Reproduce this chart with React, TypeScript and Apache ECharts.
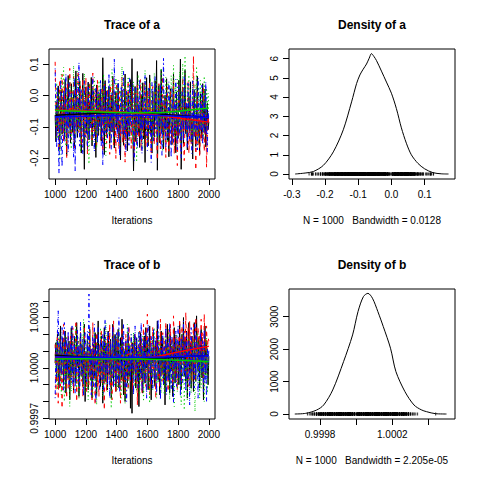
import React, { useEffect, useRef } from "react";
import * as echarts from "echarts";

// ---------- tick values ----------
const ITER_TICKS = [1000, 1200, 1400, 1600, 1800, 2000];
const A_TICKS = [-0.2, -0.1, 0.0, 0.1];
const B_TICKS = [0.9997, 0.9998, 0.9999, 1.0, 1.0001, 1.0002, 1.0003, 1.0004];
const B_TICK_LABELS = [0.9997, 1.0, 1.0003];
const DA_X_TICKS = [-0.3, -0.2, -0.1, 0.0, 0.1];
const DA_Y_TICKS = [0, 1, 2, 3, 4, 5, 6];
const DB_X_TICKS = [0.9998, 1.0, 1.0002, 1.0004];
const DB_X_LABELS = [0.9998, 1.0002];
const DB_Y_TICKS = [0, 1000, 2000, 3000];

// ---------- texts ----------
const TITLES = ["Trace of a", "Density of a", "Trace of b", "Density of b"];
const XLABS = ["Iterations", "N = 1000   Bandwidth = 0.0128", "Iterations", "N = 1000   Bandwidth = 2.205e-05"];

// ---------- trace of a (4 chains, thinned every 5 iterations, 1000..2000) ----------
const A_BLACK = [
  -0.062, -0.148, -0.021, -0.113, 0.031, -0.087, -0.172, -0.043, 0.018, -0.124,
  -0.071, -0.006, -0.139, 0.052, -0.082, -0.193, -0.034, 0.064, -0.101, -0.053,
  -0.152, 0.038, -0.069, -0.118, 0.012, -0.167, -0.058, 0.079, -0.092, -0.134,
  -0.017, -0.106, 0.046, -0.078, -0.184, -0.039, 0.071, -0.097, -0.236, -0.031,
  0.027, -0.121, -0.063, 0.043, -0.142, -0.021, -0.088, 0.058, -0.161, -0.049,
  0.013, -0.109, -0.074, -0.198, 0.034, -0.056, -0.128, 0.004, -0.094, 0.021,
  -0.146, -0.067, 0.121, -0.037, -0.189, 0.048, -0.083, -0.131, -0.012, -0.102,
  0.028, -0.153, -0.071, 0.002, -0.117, 0.062, -0.091, -0.168, -0.041, 0.011,
  -0.108, -0.059, 0.039, -0.137, -0.079, -0.206, -0.028, 0.018, -0.099, -0.159,
  -0.051, 0.069, -0.118, -0.072, -0.177, 0.009, -0.088, -0.129, 0.051, -0.046,
  0.118, -0.097, -0.241, -0.101, 0.029, -0.147, -0.062, 0.077, -0.121, -0.031,
  -0.166, -0.083, 0.003, -0.112, 0.041, -0.139, -0.069, -0.214, -0.025, 0.057,
  -0.104, -0.161, -0.048, 0.066, -0.123, -0.076, -0.184, 0.014, -0.092, -0.132,
  0.047, -0.054, 0.112, -0.239, -0.097, 0.032, -0.151, -0.061, 0.083, -0.118,
  -0.028, -0.171, -0.084, 0.001, -0.109, 0.054, -0.143, -0.072, -0.196, -0.038,
  0.022, -0.102, -0.157, -0.049, 0.069, -0.126, -0.079, -0.183, 0.011, -0.091,
  -0.137, 0.049, -0.052, 0.117, -0.236, -0.104, 0.027, -0.154, -0.063, 0.081,
  -0.122, -0.034, -0.174, -0.087, -0.004, -0.113, 0.044, -0.149, -0.074, -0.203,
  -0.042, 0.017, -0.107, -0.163, -0.056, 0.062, -0.131, -0.081, -0.188, 0.006,
  -0.095, -0.136, 0.038, -0.059, -0.118, 0.021, -0.164, -0.072, -0.025, -0.109,
  -0.084,
];
const A_RED = [
  0.108, -0.038, -0.127, 0.024, -0.081, -0.176, 0.051, -0.019, -0.112, 0.068,
  -0.057, -0.149, 0.033, -0.093, -0.008, -0.198, 0.042, -0.071, -0.121, 0.087,
  -0.029, -0.141, 0.013, -0.079, 0.061, -0.168, -0.047, 0.022, -0.104, -0.011,
  0.078, -0.118, -0.036, 0.031, -0.158, -0.066, 0.054, -0.088, -0.017, -0.131,
  0.057, -0.052, -0.187, 0.004, -0.077, 0.043, -0.109, -0.026, -0.148, 0.072,
  -0.061, -0.123, 0.018, -0.094, -0.166, 0.049, -0.039, -0.101, 0.009, -0.142,
  -0.068, 0.028, -0.179, -0.048, 0.037, -0.114, -0.082, -0.153, 0.019, -0.097,
  -0.043, -0.188, 0.032, -0.119, -0.071, 0.053, -0.162, -0.089, -0.021, -0.201,
  0.039, -0.108, -0.058, -0.172, 0.014, -0.133, -0.079, 0.058, -0.151, -0.096,
  -0.031, -0.213, 0.021, -0.124, -0.064, 0.047, -0.141, -0.087, -0.012, -0.169,
  0.026, -0.116, -0.054, -0.191, 0.008, -0.102, -0.158, 0.034, -0.083, -0.137,
  -0.047, 0.051, -0.176, -0.093, -0.019, -0.128, 0.041, -0.072, -0.163, -0.104,
  0.016, -0.148, -0.068, 0.044, -0.119, -0.187, -0.036, 0.029, -0.097, -0.157,
  -0.079, 0.012, -0.134, -0.206, -0.052, 0.038, -0.112, -0.171, -0.024, -0.091,
  0.061, -0.146, -0.083, -0.011, -0.198, -0.067, 0.027, -0.129, -0.178, -0.044,
  0.018, -0.109, -0.152, -0.058, 0.049, -0.186, -0.097, -0.016, -0.139, -0.224,
  -0.071, 0.033, -0.118, -0.167, -0.038, -0.101, 0.057, -0.143, -0.208, -0.082,
  -0.019, -0.127, -0.063, 0.046, -0.184, -0.112, 0.009, -0.156, -0.094, -0.031,
  0.126, -0.136, -0.072, -0.238, -0.115, 0.019, -0.161, -0.053, -0.197, -0.121,
  -0.014, -0.146, -0.088, 0.028, -0.179, -0.106, -0.043, -0.229, -0.132, -0.067,
  -0.094,
];
const A_GREEN = [
  -0.018, -0.102, 0.041, -0.138, -0.057, 0.013, -0.207, -0.079, 0.068, -0.112,
  -0.033, 0.091, -0.121, -0.046, -0.162, 0.028, -0.087, -0.009, -0.129, 0.059,
  -0.068, -0.171, 0.017, -0.098, 0.096, -0.041, -0.152, 0.003, -0.083, 0.077,
  -0.117, -0.028, 0.052, -0.181, -0.061, 0.019, -0.109, -0.038, 0.071, -0.143,
  -0.076, 0.011, -0.131, -0.052, -0.219, 0.039, -0.093, -0.017, -0.147, 0.031,
  -0.072, 0.058, -0.124, -0.041, -0.168, 0.008, -0.101, 0.048, -0.063, -0.139,
  0.022, -0.088, -0.027, 0.069, -0.118, -0.054, -0.192, 0.026, -0.081, -0.002,
  -0.127, 0.046, -0.062, -0.114, 0.084, -0.023, -0.153, 0.013, -0.094, 0.057,
  -0.037, -0.121, 0.038, -0.071, -0.163, 0.017, -0.048, 0.093, -0.104, -0.011,
  -0.133, 0.049, -0.079, 0.006, -0.112, 0.061, -0.052, -0.142, 0.029, -0.087,
  -0.023, -0.158, 0.044, -0.066, -0.118, 0.018, -0.213, -0.041, 0.067, -0.096,
  -0.014, -0.137, 0.039, -0.082, -0.171, 0.004, -0.059, 0.081, -0.108, -0.032,
  -0.149, 0.027, -0.067, -0.124, 0.056, -0.019, -0.163, 0.011, -0.088, 0.072,
  -0.044, -0.131, 0.048, -0.073, -0.007, -0.142, 0.033, -0.097, 0.088, -0.056,
  -0.179, 0.021, -0.061, -0.113, 0.059, -0.028, -0.152, 0.042, -0.081, 0.009,
  -0.121, 0.064, -0.036, -0.094, 0.097, -0.017, -0.138, 0.031, -0.069, 0.052,
  -0.104, -0.024, 0.076, -0.151, 0.014, -0.062, 0.103, -0.089, -0.012, 0.127,
  -0.047, -0.132, 0.043, -0.074, 0.066, -0.108, 0.019, -0.039, -0.147, 0.058,
  -0.021, -0.117, 0.036, -0.081, 0.094, -0.052, -0.158, 0.027, -0.066, 0.049,
  -0.112, 0.011, -0.035, -0.139, 0.062, -0.058, -0.097, 0.024, -0.046, 0.008,
  -0.038,
];
const A_BLUE = [
  0.087, -0.078, -0.168, 0.029, -0.109, -0.248, -0.041, 0.052, -0.127, -0.228,
  -0.061, 0.018, -0.149, -0.092, 0.069, -0.118, -0.032, -0.181, 0.041, -0.083,
  -0.139, 0.009, -0.102, -0.048, -0.197, 0.058, -0.241, -0.071, 0.032, -0.121,
  -0.043, 0.106, -0.162, -0.081, 0.022, -0.108, -0.188, -0.058, 0.047, -0.133,
  -0.019, -0.094, -0.171, 0.038, -0.068, -0.143, 0.003, -0.104, -0.037, 0.062,
  -0.118, -0.179, -0.052, 0.027, -0.087, -0.152, 0.012, -0.073, -0.109, 0.048,
  -0.161, -0.028, -0.221, -0.079, 0.041, -0.124, -0.061, 0.019, -0.138, -0.091,
  0.071, -0.113, -0.039, -0.172, 0.008, -0.083, -0.131, 0.116, -0.058, -0.101,
  -0.022, -0.148, 0.049, -0.089, -0.193, -0.041, 0.031, -0.122, -0.068, 0.079,
  -0.129, -0.052, -0.182, 0.017, -0.098, -0.031, -0.159, 0.057, -0.079, -0.117,
  -0.046, 0.038, -0.137, -0.208, -0.063, 0.024, -0.112, -0.169, -0.007, -0.091,
  0.053, -0.144, -0.072, -0.186, 0.011, -0.103, -0.056, 0.067, -0.128, -0.034,
  -0.176, -0.084, 0.029, -0.119, -0.061, -0.214, 0.043, -0.096, -0.148, -0.022,
  0.061, -0.107, -0.043, -0.158, 0.014, -0.081, -0.127, 0.038, -0.069, -0.191,
  -0.052, 0.119, -0.114, -0.076, -0.164, 0.009, -0.091, -0.139, 0.044, -0.038,
  -0.122, -0.198, 0.026, -0.066, -0.152, -0.017, -0.104, 0.052, -0.083, -0.173,
  -0.041, 0.034, -0.129, -0.088, -0.201, 0.012, -0.073, -0.146, 0.064, -0.057,
  -0.118, -0.024, -0.167, 0.039, -0.094, -0.138, 0.003, -0.079, -0.186, 0.047,
  -0.063, -0.131, 0.021, -0.102, -0.049, -0.174, 0.056, -0.088, -0.136, -0.019,
  -0.109, 0.033, -0.157, -0.071, -0.012, -0.124, 0.044, -0.096, -0.181, -0.048,
  -0.077,
];

// ---------- trace of b ----------
const B_BLACK = [
  1.00003, 1.00015, 0.99992, 1.0002, 1.00006, 0.99988, 1.00011, 1.00025, 0.99996, 1.00009,
  1.00018, 0.9999, 1.00004, 1.00022, 0.99985, 1.00007, 1.00013, 0.99994, 1.00016, 0.99981,
  1.00002, 1.00024, 0.99997, 1.0001, 0.99986, 1.00019, 1.00005, 0.99991, 1.00027, 1.00001,
  1.00012, 0.99983, 1.00008, 1.00021, 0.99995, 1.00014, 0.99989, 1.00003, 1.00026, 0.9998,
  1.00009, 0.99998, 1.00017, 0.99987, 1.00006, 1.00023, 0.99993, 1.00011, 0.99982, 1.00004,
  1.00014, 0.99994, 1.00021, 1.0, 0.99984, 1.00012, 1.00028, 0.99997, 1.00008, 0.99989,
  1.00019, 1.00005, 0.99979, 1.0001, 1.00024, 0.99992, 1.00015, 1.00001, 0.99987, 1.00022,
  1.00007, 0.99996, 1.00017, 0.99982, 1.00011, 1.00026, 0.99991, 1.00004, 1.0002, 0.99986,
  1.00013, 0.99999, 1.00023, 0.99988, 1.00006, 1.00018, 0.99993, 1.00029, 1.00002, 0.99984,
  1.0001, 0.9998, 1.00015, 1.00003, 0.99991, 1.00021, 0.99995, 1.00012, 0.99976, 1.00008,
  0.99973, 1.00015, 0.99996, 1.0002, 1.00001, 0.99988, 1.00018, 0.99992, 1.0001, 0.99977,
  1.00007, 1.00021, 0.99994, 1.00013, 0.99985, 1.00004, 1.00019, 0.99991, 1.00024, 1.0,
  1.00016, 0.99987, 1.00009, 1.00025, 0.99998, 0.99981, 1.00011, 1.00003, 1.00021, 0.99993,
  0.99989, 1.00016, 1.00005, 1.00028, 0.99993, 1.00012, 0.99984, 1.00008, 1.00022, 0.99997,
  1.00018, 0.9999, 1.00006, 0.99978, 1.00014, 1.00002, 1.00026, 0.99994, 1.00011, 0.99985,
  1.0002, 0.99999, 1.00013, 0.99983, 1.00007, 1.00024, 0.99991, 1.00016, 0.99996, 1.0001,
  1.00014, 0.9999, 1.00026, 1.00002, 0.99987, 1.0002, 1.00006, 1.0003, 0.99995, 1.00017,
  0.99992, 1.00022, 0.99982, 1.00009, 1.00027, 0.99997, 1.00015, 0.99988, 1.00019, 1.00004,
  0.99986, 1.00027, 1.00003, 0.99992, 1.00031, 1.00009, 0.99998, 1.00018, 0.99988, 1.00011,
  1.00023, 0.99994, 1.00013, 0.99981, 1.00008, 1.00025, 0.99996, 1.00016, 1.00001, 0.9999,
  1.00007,
];
const B_RED = [
  1.00014, 0.99984, 1.00005, 1.00022, 0.99979, 1.00009, 1.00017, 0.99989, 1.00003, 0.99976,
  1.00011, 1.00026, 0.99993, 1.00015, 0.99998, 0.99982, 1.00008, 1.0002, 0.99987, 1.00006,
  1.00019, 0.99991, 1.00002, 1.00024, 0.99985, 1.0001, 0.99995, 1.00028, 0.9998, 1.00007,
  1.00016, 0.99988, 1.00004, 1.00021, 0.99992, 1.00013, 0.99983, 1.00001, 1.00025, 0.99996,
  1.00009, 0.99986, 1.00018, 1.00003, 0.9999, 1.00023, 0.99994, 1.00012, 0.99981, 1.00027,
  0.99997, 1.00017, 0.99978, 1.00008, 1.00021, 0.99989, 1.00004, 0.99983, 1.00014, 0.99994,
  1.00023, 0.99991, 1.00012, 0.99999, 0.99975, 1.00016, 1.00006, 0.99986, 1.00019, 1.00002,
  0.99993, 1.00026, 0.99988, 1.00009, 0.99981, 1.00013, 1.00028, 0.99996, 1.00007, 0.99985,
  1.00017, 0.99998, 1.00021, 0.9999, 1.00005, 0.99979, 1.00011, 1.00024, 0.99992, 1.00015,
  1.00001, 0.99984, 1.0002, 0.99995, 1.0001, 0.99987, 1.00025, 1.00003, 0.99991, 1.00018,
  1.00005, 0.99987, 1.00015, 0.99998, 1.0002, 0.99991, 1.00008, 0.99978, 1.00014, 1.0,
  1.00022, 0.99993, 1.00016, 0.99985, 1.00009, 1.00026, 0.99997, 1.00012, 0.99989, 1.00019,
  1.00032, 0.99995, 1.00011, 0.99984, 1.00019, 1.00006, 0.99989, 1.00024, 0.99997, 1.00013,
  1.00004, 0.99982, 1.00022, 1.00008, 0.99994, 1.00017, 0.99988, 1.00029, 1.00001, 0.99992,
  1.00021, 0.99992, 1.00016, 1.00002, 1.00027, 0.99994, 1.00012, 0.99986, 1.00023, 1.00009,
  1.00026, 0.99999, 1.00018, 0.9999, 1.00031, 1.00013, 0.99996, 1.0002, 1.00007, 0.99987,
  1.00018, 0.99998, 1.00029, 1.00007, 0.99991, 1.00025, 1.00014, 1.00001, 1.00022, 0.99996,
  1.00033, 1.00012, 0.99994, 1.00024, 0.99989, 1.00028, 1.00005, 1.00019, 0.99992, 1.00015,
  1.00026, 1.00011, 0.99993, 1.0003, 1.00015, 1.00003, 1.00024, 0.99999, 1.00019, 1.0001,
  1.00029, 1.00004, 1.00021, 0.99991, 1.00032, 1.00014, 0.99997, 1.00025, 1.00008, 1.00018,
  1.00016,
];
const B_GREEN = [
  1.00008, 0.99996, 1.00017, 0.99987, 1.00002, 1.00021, 0.99992, 1.00012, 0.99984, 1.00006,
  0.99998, 1.00015, 0.9998, 1.00009, 0.99989, 1.00019, 1.00004, 0.99993, 1.00014, 0.99977,
  1.0001, 0.99986, 1.00022, 1.00001, 0.99991, 1.00016, 0.99995, 1.00025, 0.99988, 1.00007,
  1.00018, 0.99982, 1.00003, 1.00012, 0.99994, 1.0002, 0.9999, 1.00029, 1.0, 0.99985,
  1.00014, 0.99996, 1.00019, 0.99981, 1.00008, 1.00025, 0.99992, 1.00011, 0.99998, 0.99983,
  1.00006, 1.00021, 0.99988, 1.00003, 0.99978, 1.00015, 0.99999, 1.0001, 0.99991, 1.00024,
  0.99995, 1.00013, 0.99983, 1.00007, 1.00018, 0.9999, 1.00027, 1.00002, 0.99986, 1.00009,
  1.00016, 0.99993, 1.00004, 0.99976, 1.00012, 0.99997, 1.00021, 0.99989, 1.00008, 0.99999,
  1.00019, 0.99987, 1.00006, 1.00023, 0.99992, 1.00014, 0.99982, 1.00002, 1.00017, 0.99995,
  1.00011, 0.99979, 1.00009, 0.99998, 1.00026, 0.99988, 1.00005, 1.00015, 0.99993, 1.0002,
  1.00013, 0.99994, 1.00021, 0.99989, 1.00005, 1.00017, 0.99986, 1.00009, 0.99997, 1.00022,
  0.99984, 1.00004, 1.00012, 0.99992, 1.00019, 0.9998, 1.00007, 0.99996, 1.00016, 0.9999,
  0.99991, 1.00015, 1.0, 0.99979, 1.00012, 0.99995, 1.00018, 0.99987, 1.00007, 1.00024,
  0.99997, 1.00011, 0.99982, 1.00006, 0.99991, 1.00021, 0.99999, 1.00014, 0.99985, 1.00003,
  0.99993, 1.0001, 0.99984, 1.00019, 1.00002, 0.99988, 1.00014, 0.99996, 1.00023, 0.99981,
  1.00008, 0.99989, 1.00017, 0.99994, 1.00004, 0.99977, 1.00013, 0.99998, 1.0002, 0.99986,
  1.00006, 1.00016, 0.9999, 1.00011, 0.99978, 1.0002, 0.99999, 1.00013, 0.99975, 1.00008,
  0.99996, 1.00012, 0.99981, 1.00005, 1.00018, 0.99992, 1.00009, 0.99985, 1.00002, 1.00016,
  1.00017, 0.99994, 0.99974, 1.00012, 1.00003, 1.00021, 0.99991, 1.00015, 0.99982, 1.00005,
  0.99988, 1.0001, 0.99997, 1.00014, 0.9998, 1.00007, 0.99993, 1.00018, 0.99985, 1.00002,
  1.00001,
];
const B_BLUE = [
  0.99982, 1.00012, 0.99994, 1.0002, 1.00034, 1.00002, 0.9999, 1.00016, 0.99996, 1.00024,
  1.00007, 0.99986, 1.00027, 1.00003, 0.99991, 1.00018, 0.99998, 1.00022, 0.99988, 1.00009,
  1.00015, 0.99993, 1.00025, 0.99989, 1.00006, 1.00019, 0.99985, 1.00011, 0.99997, 1.00023,
  0.99992, 1.00014, 0.99987, 1.00028, 1.00001, 0.99995, 1.00017, 0.99983, 1.0001, 1.00021,
  1.00012, 0.99991, 1.00022, 1.00005, 1.00044, 0.99994, 1.00013, 0.99984, 1.00008, 1.00019,
  0.99989, 1.00026, 1.00003, 0.9998, 1.00014, 0.99998, 1.00024, 1.00009, 0.99987, 1.00017,
  1.00006, 0.99993, 1.0002, 0.99985, 1.00011, 1.00029, 0.99996, 1.00013, 0.9999, 1.00022,
  1.00002, 0.99982, 1.00016, 1.00008, 0.99994, 1.00025, 0.99988, 1.00019, 1.00004, 0.99991,
  1.00021, 0.99991, 1.00005, 1.0003, 0.99986, 1.00012, 0.99998, 1.00019, 0.99994, 1.00026,
  1.00004, 0.99989, 1.00016, 0.9998, 1.00009, 1.00024, 0.99996, 1.00013, 0.99992, 1.0002,
  0.99999, 1.00014, 0.99984, 1.00008, 1.00025, 0.99993, 1.00018, 1.00003, 0.99988, 1.00022,
  1.0001, 0.99995, 1.00027, 0.99986, 1.00006, 1.00017, 0.99991, 1.00021, 1.00001, 0.99982,
  1.00015, 1.00026, 0.99997, 1.00011, 0.9999, 1.00019, 1.00005, 0.99987, 1.00023, 1.00002,
  0.99993, 1.00018, 0.99985, 1.00012, 1.00029, 0.99996, 1.00009, 0.99981, 1.00016, 1.00006,
  1.0002, 0.9999, 1.00013, 0.99997, 1.00024, 0.99984, 1.00008, 1.00017, 0.99992, 1.00027,
  1.00001, 0.99987, 1.00019, 1.00005, 0.99979, 1.00014, 0.99999, 1.00022, 0.99989, 1.00009,
  1.00025, 0.99994, 1.00012, 0.99983, 1.00018, 1.00003, 0.99991, 1.00028, 0.99996, 1.00015,
  0.99986, 1.00021, 1.00007, 0.99992, 1.00016, 0.99978, 1.00011, 1.00024, 0.99998, 1.00013,
  1.00004, 0.99988, 1.00026, 0.99995, 1.00019, 1.00008, 0.99982, 1.00014, 0.99993, 1.00022,
  1.0001, 0.99997, 1.00017, 0.99986, 1.00023, 0.99991, 1.00006, 0.9998, 1.00012, 1.00003,
  1.00011,
];

// ---------- smoothed (lowess) chain trends ----------
const SMOOTH_ITER = [1000, 1200, 1400, 1600, 1800, 2000];
const SA_BLACK = [-0.063, -0.058, -0.054, -0.057, -0.064, -0.071];
const SA_RED = [-0.046, -0.049, -0.052, -0.06, -0.072, -0.085];
const SA_GREEN = [-0.048, -0.051, -0.054, -0.055, -0.05, -0.04];
const SA_BLUE = [-0.068, -0.066, -0.064, -0.063, -0.066, -0.07];
const SB_BLACK = [1.000075, 1.000065, 1.000058, 1.000057, 1.000065, 1.000075];
const SB_RED = [1.00006, 1.000058, 1.000056, 1.000062, 1.000095, 1.000129];
const SB_GREEN = [1.000053, 1.000054, 1.000055, 1.000052, 1.000046, 1.000038];
const SB_BLUE = [1.000065, 1.000063, 1.000062, 1.000064, 1.000068, 1.000072];

// ---------- density curves ----------
const DA_X = [-0.29, -0.26, -0.235, -0.205, -0.175, -0.145, -0.12, -0.105, -0.095, -0.085, -0.075, -0.067, -0.06, -0.053, -0.045, -0.03, -0.015, 0.0, 0.015, 0.03, 0.045, 0.06, 0.08, 0.1, 0.125, 0.15, 0.172];
const DA_Y = [0.0, 0.05, 0.13, 0.45, 1.15, 2.3, 3.75, 4.7, 5.15, 5.45, 5.72, 6.02, 6.26, 6.12, 5.9, 5.35, 4.78, 4.2, 3.4, 2.4, 1.6, 1.0, 0.55, 0.27, 0.07, 0.01, 0.0];
const DB_X = [0.99966, 0.99972, 0.99978, 0.99982, 0.99987, 0.99993, 0.99998, 1.00001, 1.00004, 1.000065, 1.00009, 1.00012, 1.00015, 1.00019, 1.00022, 1.00027, 1.00032, 1.00036, 1.00039, 1.00044, 1.0005];
const DB_Y = [0, 20, 120, 278, 741, 1614, 2438, 3157, 3620, 3720, 3570, 3157, 2694, 2028, 1306, 688, 278, 130, 71, 9, 0];

const CHAIN_COLORS = ["#000000", "#FF0000", "#00CD00", "#0000FF"];
const CHAIN_DASH: any[] = ["solid", [4, 4], [1, 3], [1, 3, 4, 3]];

const FONT = "'Liberation Sans', Arial, Helvetica, sans-serif";

export default function App() {
  const ref = useRef<HTMLDivElement>(null);
  useEffect(() => {
    if (!ref.current) return;
    const chart = echarts.init(ref.current, undefined, { renderer: "svg" });

    const A_CHAINS = [A_BLACK, A_RED, A_GREEN, A_BLUE];
    const B_CHAINS = [B_BLACK, B_RED, B_GREEN, B_BLUE];
    const SA = [SA_BLACK, SA_RED, SA_GREEN, SA_BLUE];
    const SB = [SB_BLACK, SB_RED, SB_GREEN, SB_BLUE];
    const iterOf = (i: number, n: number) => 1000 + (i * 1000) / (n - 1);

    const PL = [49, 289];
    const PT = [49, 289];
    const W = 166;
    const H = 130;
    const grids = [0, 1, 2, 3].map((g) => ({
      left: PL[g % 2],
      top: PT[Math.floor(g / 2)],
      width: W,
      height: H,
      show: true,
      borderColor: "#000",
      borderWidth: 1,
      backgroundColor: "transparent",
      containLabel: false,
    }));

    const baseAxis = (gridIndex: number, min: number, max: number, ticks: number[], labels: number[], fmt: (v: number) => string, isY: boolean) => ({
      type: "value",
      gridIndex,
      min,
      max,
      scale: true,
      axisLine: { show: false, onZero: false },
      splitLine: { show: false },
      axisTick: { show: true, length: 6, customValues: ticks, lineStyle: { color: "#000", width: 1 } },
      axisLabel: {
        show: true,
        customValues: labels,
        formatter: (v: number) => fmt(v),
        fontSize: 10,
        fontFamily: FONT,
        color: "#000",
        margin: 10,
        rotate: isY ? 90 : 0,
        hideOverlap: false,
        showMinLabel: true,
        showMaxLabel: true,
      },
    });

    const xAxes = [
      baseAxis(0, 960, 2040, ITER_TICKS, ITER_TICKS, (v) => String(Math.round(v)), false),
      baseAxis(1, -0.3085, 0.1915, DA_X_TICKS, DA_X_TICKS, (v) => v.toFixed(1), false),
      baseAxis(2, 960, 2040, ITER_TICKS, ITER_TICKS, (v) => String(Math.round(v)), false),
      baseAxis(3, 0.999628, 1.000547, DB_X_TICKS, DB_X_LABELS, (v) => v.toFixed(4), false),
    ];
    const yAxes = [
      baseAxis(0, -0.267, 0.149, A_TICKS, A_TICKS, (v) => v.toFixed(1), true),
      baseAxis(1, -0.26, 6.5, DA_Y_TICKS, DA_Y_TICKS, (v) => String(Math.round(v)), true),
      baseAxis(2, 0.999696, 1.00047, B_TICKS, B_TICK_LABELS, (v) => v.toFixed(4), true),
      baseAxis(3, -154, 3854, DB_Y_TICKS, DB_Y_TICKS, (v) => String(Math.round(v)), true),
    ];

    const series: any[] = [];
    const addTrace = (chains: number[][], smooths: number[][], idx: number) => {
      chains.forEach((ch, k) => {
        series.push({
          type: "line",
          xAxisIndex: idx,
          yAxisIndex: idx,
          data: ch.map((v, i) => [iterOf(i, ch.length), v]),
          showSymbol: false,
          symbol: "none",
          silent: true,
          lineStyle: { color: CHAIN_COLORS[k], width: 1, type: CHAIN_DASH[k] },
          z: 2,
        });
      });
      smooths.forEach((s, k) => {
        series.push({
          type: "line",
          xAxisIndex: idx,
          yAxisIndex: idx,
          data: s.map((v, i) => [SMOOTH_ITER[i], v]),
          showSymbol: false,
          symbol: "none",
          smooth: true,
          silent: true,
          lineStyle: { color: CHAIN_COLORS[k], width: 1.5, type: "solid" },
          z: 3,
        });
      });
    };
    addTrace(A_CHAINS, SA, 0);
    addTrace(B_CHAINS, SB, 2);

    const addDensity = (xs: number[], ys: number[], obs: number[], idx: number) => {
      series.push({
        type: "line",
        xAxisIndex: idx,
        yAxisIndex: idx,
        data: xs.map((x, i) => [x, ys[i]]),
        showSymbol: false,
        symbol: "none",
        smooth: 0.3,
        silent: true,
        lineStyle: { color: "#000", width: 1 },
      });
      series.push({
        type: "scatter",
        xAxisIndex: idx,
        yAxisIndex: idx,
        data: obs.map((v) => [v, 0]),
        symbol: "rect",
        symbolSize: [1, 3],
        silent: true,
        itemStyle: { color: "#000", opacity: 0.8 },
      });
    };
    addDensity(DA_X, DA_Y, ([] as number[]).concat(...A_CHAINS), 1);
    addDensity(DB_X, DB_Y, ([] as number[]).concat(...B_CHAINS), 3);

    const graphics: any[] = [];
    [0, 1, 2, 3].forEach((g) => {
      const cx = PL[g % 2] + W / 2;
      const top = PT[Math.floor(g / 2)];
      graphics.push({
        type: "text",
        x: cx,
        y: top - 24,
        style: { text: TITLES[g], fill: "#000", font: `bold 12px ${FONT}`, textAlign: "center", textVerticalAlign: "middle" },
      });
      graphics.push({
        type: "text",
        x: cx,
        y: top + H + 41,
        style: { text: XLABS[g], fill: "#000", font: `10px ${FONT}`, textAlign: "center", textVerticalAlign: "middle" },
      });
    });

    chart.setOption({
      animation: false,
      backgroundColor: "#fff",
      textStyle: { fontFamily: FONT },
      grid: grids,
      xAxis: xAxes,
      yAxis: yAxes,
      series,
      graphic: graphics,
    });
    return () => chart.dispose();
  }, []);
  return <div ref={ref} style={{ position: "fixed", left: 0, top: 0, width: 480, height: 480 }} />;
}
